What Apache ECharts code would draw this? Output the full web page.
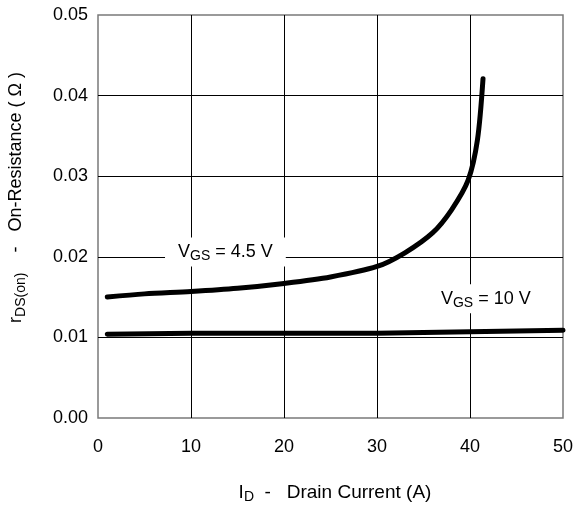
<!DOCTYPE html>
<html>
<head>
<meta charset="utf-8">
<script src="https://cdn.jsdelivr.net/npm/echarts@6/dist/echarts.min.js"></script>
<style>
  html, body { margin: 0; padding: 0; background: #fff; }
  #chart { width: 573px; height: 507px; }
</style>
</head>
<body>
<div id="chart"></div>
<script>
// Drain current (A) vs on-resistance (ohm) for two gate voltages
const vgs45Current = [1, 5, 10, 15, 20, 25, 30, 33, 36, 38, 39.8, 40.8, 41.4];
const vgs45Rds     = [0.0150, 0.0154, 0.0157, 0.0161, 0.0167, 0.0175, 0.0188, 0.0205, 0.0230, 0.0258, 0.0295, 0.0345, 0.0421];
const vgs10Current = [1, 10, 20, 30, 40, 50];
const vgs10Rds     = [0.0104, 0.0105, 0.0105, 0.0105, 0.0107, 0.0109];

// Curve annotations: [current, resistance, voltage text]
const curveLabels = [
  [13.7, 0.0206, '4.5 V'],
  [41.7, 0.0148, '10 V']
];

const xTicks = [0, 10, 20, 30, 40, 50];
const yTicks = [0.00, 0.01, 0.02, 0.03, 0.04, 0.05];

const FONT = 'Liberation Sans, Arial, sans-serif';
const pairs = (xs, ys) => xs.map((x, i) => [x, ys[i]]);

function richStyle(size, subSize, drop) {
  return {
    v:   { fontSize: size, fontFamily: FONT, color: '#000' },
    sub: { fontSize: subSize, fontFamily: FONT, color: '#000', padding: [drop, 0, 0, 0] }
  };
}

const chart = echarts.init(document.getElementById('chart'), null, { renderer: 'canvas' });
chart.setOption({
  animation: false,
  backgroundColor: '#fff',
  grid: {
    left: 98, top: 15, right: 10, bottom: 89,
    outerBoundsMode: 'none',
    show: true, borderColor: '#7a7a7a', borderWidth: 1.5, backgroundColor: 'transparent'
  },
  xAxis: {
    type: 'value', min: xTicks[0], max: xTicks[xTicks.length - 1], interval: 10,
    axisLine: { show: false }, axisTick: { show: false },
    splitLine: { show: true, showMinLine: false, showMaxLine: false, lineStyle: { color: '#000', width: 1 } },
    axisLabel: { fontSize: 18, fontFamily: FONT, color: '#000', margin: 20 },
    name: '{v|I}{sub|D}{v|  -   Drain Current (A)}',
    nameLocation: 'middle', nameGap: 64,
    nameTextStyle: { rich: richStyle(19, 14, 8), padding: [0, 0, 0, 9] }
  },
  yAxis: {
    type: 'value', min: yTicks[0], max: yTicks[yTicks.length - 1], interval: 0.01,
    axisLine: { show: false }, axisTick: { show: false },
    splitLine: { show: true, showMinLine: false, showMaxLine: false, lineStyle: { color: '#000', width: 1 } },
    axisLabel: { fontSize: 18, fontFamily: FONT, color: '#000', margin: 10, formatter: v => v.toFixed(2) },
    name: '{v|r}{sub|DS(on)}{v|    -   On-Resistance ( Ω )}',
    nameLocation: 'middle', nameGap: 70, nameRotate: 90,
    nameTextStyle: { rich: richStyle(18, 14, 9), padding: [0, 0, 0, 38] }
  },
  series: [
    {
      type: 'line', data: pairs(vgs45Current, vgs45Rds), smooth: 0.3,
      symbol: 'none', lineStyle: { color: '#000', width: 5, cap: 'round' },
      z: 3
    },
    {
      type: 'line', data: pairs(vgs10Current, vgs10Rds),
      symbol: 'none', lineStyle: { color: '#000', width: 5, cap: 'round' },
      z: 3
    },
    {
      type: 'scatter', symbolSize: 0, z: 2, silent: true,
      itemStyle: { opacity: 1 },
      data: curveLabels.map(d => ({ value: [d[0], d[1]], name: d[2] })),
      label: {
        show: true, position: 'inside', color: '#000', textBorderWidth: 0, opacity: 1,
        formatter: p => '{v|V}{sub|GS}{v| = ' + p.name + '}',
        backgroundColor: '#fff', padding: [3, 13, 3, 13],
        rich: richStyle(18, 14, 9)
      }
    }
  ]
});
</script>
</body>
</html>
